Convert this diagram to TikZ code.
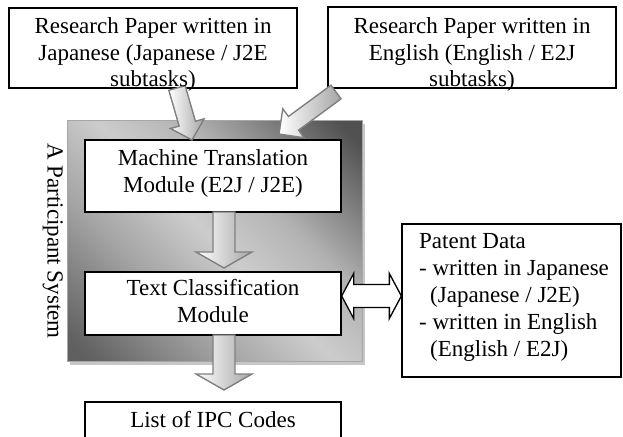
\documentclass[tikz,border=0pt]{standalone}
\usepackage{fontspec}
\setmainfont{Liberation Serif}
\usetikzlibrary{calc}
\pgfdeclarehorizontalshading{sysshade}{100bp}{color(0bp)=(black!66); color(18bp)=(black!62); color(36bp)=(black!36); color(50bp)=(black!20); color(62bp)=(black!30); color(82bp)=(black!68); color(100bp)=(black!72)}
\tikzset{
  box/.style={draw=black, line width=1.3pt, fill=white, inner sep=0pt},
  lbl/.style={font=\fontsize{23}{27}\selectfont, inner sep=0pt, text=black},
  barrow/.style={draw=black!50, line width=1.4pt, left color=white, right color=black!35, line join=miter},
  darrow/.style={draw=black, line width=1.3pt, fill=white, line join=miter},
  frame/.style={draw=black!35, line width=1pt, shading=sysshade, shading angle=45},
  frameshadow/.style={fill=black!22},
}
% #1 style, #2 tail, #3 tip, #4 half shaft, #5 half head, #6 head length
\newcommand\blockarr[6]{%
  \coordinate (ba-h) at ($(#3)!#6!(#2)$);
  \path[#1] ($(#2)!#4!90:(#3)$) -- ($(ba-h)!#4!90:(#3)$) -- ($(ba-h)!#5!90:(#3)$) -- (#3)
    -- ($(ba-h)!#5!-90:(#3)$) -- ($(ba-h)!#4!-90:(#3)$) -- ($(#2)!#4!-90:(#3)$) -- cycle;
}
\begin{document}
\begin{tikzpicture}[x=1pt,y=-1pt]
\useasboundingbox (0,0) rectangle (623,436);
\clip (0,0) rectangle (623,436);
\fill[white] (0,0) rectangle (623,436);

% outer system frame
\path[frameshadow] (70,124) rectangle (365,365);
\node[frame, minimum width=295pt, minimum height=241pt, inner sep=0pt] (sys) at (214.5,240.5) {};

% boxes
\node[box, minimum width=288pt, minimum height=80pt] (jp) at (153,48) {};
\node[box, minimum width=288pt, minimum height=81pt] (en) at (472,47.5) {};
\node[box, minimum width=256pt, minimum height=72pt] (mt) at (213,176) {};
\node[box, minimum width=256pt, minimum height=63pt] (tc) at (213,303.5) {};
\node[box, minimum width=256pt, minimum height=36pt] (ipc) at (213,420) {};
\node[box, minimum width=219pt, minimum height=153pt] (pd) at (511.5,300.5) {};

% connector end points
\coordinate (a1s) at (177,88);
\coordinate (a1e) at (192,140);
\coordinate (a2s) at (336,92);
\coordinate (a2e) at (279,134);
\coordinate (a3s) at (224,212);
\coordinate (a3e) at (224,268);
\coordinate (a4s) at (224,335);
\coordinate (a4e) at (224,390);

\blockarr{barrow}{a1s}{a1e}{8.5pt}{17.5pt}{17pt}
\blockarr{barrow}{a2s}{a2e}{8.5pt}{18pt}{18pt}
\blockarr{barrow}{a3s}{a3e}{11pt}{28pt}{16pt}
\blockarr{barrow}{a4s}{a4e}{11pt}{28pt}{16pt}

% double arrow between classification module and patent data
\coordinate (dl) at (tc.east |- 0,296);
\coordinate (dr) at (pd.west |- 0,296);
\draw[darrow] (dl) -- ++(12,-22.5) -- ++(0,11) -- ($(dr)+(-12,-11.5)$) -- ++(0,-11) -- (dr)
  -- ++(-12,22.5) -- ++(0,-11) -- ($(dl)+(12,11.5)$) -- ++(0,11) -- cycle;

% texts
\node[lbl, anchor=base] (jp1) at (153,33.5) {Research Paper written in};
\node[lbl, anchor=base] (jp2) at (153,60) {Japanese (Japanese / J2E};
\node[lbl, anchor=base] (jp3) at (153,86.5) {subtasks)};
\node[lbl, anchor=base] (en1) at (472,33.5) {Research Paper written in};
\node[lbl, anchor=base] (en2) at (472,60) {English (English / E2J};
\node[lbl, anchor=base] (en3) at (472,86.5) {subtasks)};
\node[lbl, anchor=base] (mt1) at (213,165) {Machine Translation};
\node[lbl, anchor=base] (mt2) at (213,192) {Module (E2J / J2E)};
\node[lbl, anchor=base] (tc1) at (213,295) {Text Classification};
\node[lbl, anchor=base] (tc2) at (213,322) {Module};
\node[lbl, anchor=base] (ipc1) at (213,427) {List of IPC Codes};
\node[lbl, anchor=base west] (pd1) at (419,248) {Patent Data};
\node[lbl, anchor=base west] (pd2) at (419,275) {- written in Japanese};
\node[lbl, anchor=base west] (pd3) at (430,302) {(Japanese / J2E)};
\node[lbl, anchor=base west] (pd4) at (419,329) {- written in English};
\node[lbl, anchor=base west] (pd5) at (430,356) {(English / E2J)};
\node[lbl, anchor=base west, rotate=-90] (sysl) at (47.5,143) {A Participant System};
\end{tikzpicture}
\end{document}
